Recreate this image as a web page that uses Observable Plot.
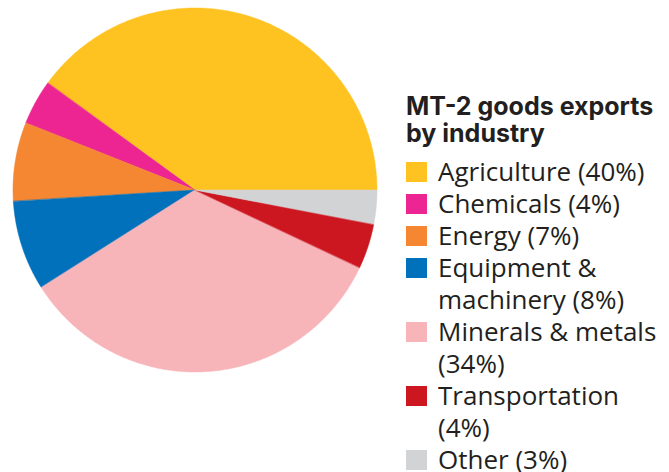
<!DOCTYPE html>
<html>
<head>
<meta charset="utf-8">
<script src="https://cdn.jsdelivr.net/npm/d3@7"></script>
<script src="https://cdn.jsdelivr.net/npm/@observablehq/plot@0.6"></script>
<style>
  body { margin: 0; background: #fff; }
  #wrap { position: relative; width: 669px; height: 472px; overflow: hidden; }
  #legend { position: absolute; left: 406px; top: 93px; width: 263px; color: #231F20; font-family: "Open Sans", sans-serif; }
  #legend .title { font-family: Inter, sans-serif; font-weight: 700; font-size: 25px; line-height: 27px; margin-bottom: 8px; width: 258px; }
  #legend .item { display: flex; align-items: flex-start; font-size: 26px; line-height: 32px; }
  #legend .sw { flex: none; width: 21px; height: 20px; margin-top: 7px; margin-right: 11px; }
  #legend .lab { width: 226px; white-space: normal; }
</style>
</head>
<body>
<div id="wrap"></div>
<script>
const categories = ["Agriculture", "Chemicals", "Energy", "Equipment & machinery", "Minerals & metals", "Transportation", "Other"];
const shares = [40, 4, 7, 8, 34, 4, 3];
const colors = ["#FEC221", "#EC2592", "#F58632", "#0071BA", "#F7B5BA", "#CC1620", "#D1D3D4"];
const legendTitle = "MT-2 goods exports by industry";

// Build wedge outline points (unit circle, counterclockwise from 3 o'clock)
const total = d3.sum(shares);
const pts = [];
let cum = 0;
categories.forEach((name, i) => {
  const a0 = cum / total * 2 * Math.PI;
  cum += shares[i];
  const a1 = cum / total * 2 * Math.PI;
  const n = Math.max(8, Math.ceil((a1 - a0) / 0.01));
  for (let k = 0; k <= n; k++) {
    const a = a0 + (a1 - a0) * k / n;
    pts.push({name, x: Math.cos(a), y: Math.sin(a)});
  }
});

const chart = Plot.plot({
  width: 669,
  height: 472,
  margin: 0,
  x: {domain: [-1, 1], range: [13, 377], axis: null},
  y: {domain: [-1, 1], range: [372, 8], axis: null},
  color: {domain: categories, range: colors},
  style: {background: "#fff"},
  marks: [
    Plot.area(pts, {
      x1: () => 0, y1: () => 0, x2: "x", y2: "y",
      fill: "name", z: "name", stroke: "name", strokeWidth: 0.5
    })
  ]
});

const wrap = document.getElementById("wrap");
wrap.appendChild(chart);

const legend = document.createElement("div");
legend.id = "legend";
const t = document.createElement("div");
t.className = "title";
t.textContent = legendTitle;
legend.appendChild(t);
categories.forEach((name, i) => {
  const it = document.createElement("div");
  it.className = "item";
  const sw = document.createElement("div");
  sw.className = "sw";
  sw.style.background = colors[i];
  const lab = document.createElement("div");
  lab.className = "lab";
  lab.textContent = `${name} (${shares[i]}%)`;
  it.appendChild(sw);
  it.appendChild(lab);
  legend.appendChild(it);
});
wrap.appendChild(legend);
</script>
</body>
</html>
